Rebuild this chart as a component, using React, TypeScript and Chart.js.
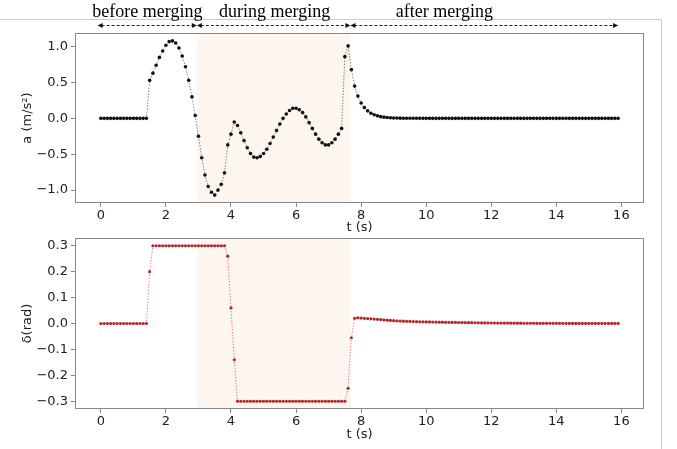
import React, { useEffect, useRef } from "react";
import { Chart, registerables } from "chart.js";
Chart.register(...registerables);

const times = [
  0.0, 0.1, 0.2, 0.3, 0.4, 0.5, 0.6, 0.7, 0.8, 0.9,
  1.0, 1.1, 1.2, 1.3, 1.4, 1.5, 1.6, 1.7, 1.8, 1.9,
  2.0, 2.1, 2.2, 2.3, 2.4, 2.5, 2.6, 2.7, 2.8, 2.9,
  3.0, 3.1, 3.2, 3.3, 3.4, 3.5, 3.6, 3.7, 3.8, 3.9,
  4.0, 4.1, 4.2, 4.3, 4.4, 4.5, 4.6, 4.7, 4.8, 4.9,
  5.0, 5.1, 5.2, 5.3, 5.4, 5.5, 5.6, 5.7, 5.8, 5.9,
  6.0, 6.1, 6.2, 6.3, 6.4, 6.5, 6.6, 6.7, 6.8, 6.9,
  7.0, 7.1, 7.2, 7.3, 7.4, 7.5, 7.6, 7.7, 7.8, 7.9,
  8.0, 8.1, 8.2, 8.3, 8.4, 8.5, 8.6, 8.7, 8.8, 8.9,
  9.0, 9.1, 9.2, 9.3, 9.4, 9.5, 9.6, 9.7, 9.8, 9.9,
  10.0, 10.1, 10.2, 10.3, 10.4, 10.5, 10.6, 10.7, 10.8, 10.9,
  11.0, 11.1, 11.2, 11.3, 11.4, 11.5, 11.6, 11.7, 11.8, 11.9,
  12.0, 12.1, 12.2, 12.3, 12.4, 12.5, 12.6, 12.7, 12.8, 12.9,
  13.0, 13.1, 13.2, 13.3, 13.4, 13.5, 13.6, 13.7, 13.8, 13.9,
  14.0, 14.1, 14.2, 14.3, 14.4, 14.5, 14.6, 14.7, 14.8, 14.9,
  15.0, 15.1, 15.2, 15.3, 15.4, 15.5, 15.6, 15.7, 15.8, 15.9,
];

const accel = [
  0, 0, 0, 0, 0, 0, 0, 0, 0, 0,
  0, 0, 0, 0, 0, 0.53, 0.63, 0.74, 0.85, 0.94,
  1.02, 1.07, 1.08, 1.05, 0.98, 0.87, 0.72, 0.53, 0.3, 0.04,
  -0.25, -0.55, -0.79, -0.95, -1.03, -1.07, -1.0, -0.92, -0.76, -0.37,
  -0.22, -0.05, -0.1, -0.2, -0.31, -0.41, -0.49, -0.54, -0.55, -0.53,
  -0.49, -0.43, -0.35, -0.26, -0.17, -0.08, 0.0, 0.06, 0.11, 0.14,
  0.14, 0.12, 0.08, 0.02, -0.06, -0.14, -0.22, -0.29, -0.34, -0.37,
  -0.37, -0.34, -0.29, -0.22, -0.14, 0.86, 1.01, 0.68, 0.45, 0.31,
  0.215, 0.15, 0.105, 0.072, 0.05, 0.035, 0.024, 0.017, 0.012, 0.008,
  0.006, 0.004, 0.003, 0.002, 0.002, 0.001, 0.001, 0.001, 0.001, 0,
  0, 0, 0, 0, 0, 0, 0, 0, 0, 0,
  0, 0, 0, 0, 0, 0, 0, 0, 0, 0,
  0, 0, 0, 0, 0, 0, 0, 0, 0, 0,
  0, 0, 0, 0, 0, 0, 0, 0, 0, 0,
  0, 0, 0, 0, 0, 0, 0, 0, 0, 0,
  0, 0, 0, 0, 0, 0, 0, 0, 0, 0,
];

const steer = [
  0, 0, 0, 0, 0, 0, 0, 0, 0, 0,
  0, 0, 0, 0, 0, 0.2, 0.3, 0.3, 0.3, 0.3,
  0.3, 0.3, 0.3, 0.3, 0.3, 0.3, 0.3, 0.3, 0.3, 0.3,
  0.3, 0.3, 0.3, 0.3, 0.3, 0.3, 0.3, 0.3, 0.3, 0.26,
  0.06, -0.14, -0.3, -0.3, -0.3, -0.3, -0.3, -0.3, -0.3, -0.3,
  -0.3, -0.3, -0.3, -0.3, -0.3, -0.3, -0.3, -0.3, -0.3, -0.3,
  -0.3, -0.3, -0.3, -0.3, -0.3, -0.3, -0.3, -0.3, -0.3, -0.3,
  -0.3, -0.3, -0.3, -0.3, -0.3, -0.3, -0.25, -0.055, 0.02, 0.022,
  0.021, 0.02, 0.019, 0.018, 0.017, 0.016, 0.015, 0.014, 0.013, 0.012,
  0.011, 0.01, 0.0095, 0.009, 0.0085, 0.008, 0.0075, 0.007, 0.0068, 0.0065,
  0.0062, 0.006, 0.0057, 0.0055, 0.0052, 0.005, 0.0047, 0.0045, 0.0042, 0.004,
  0.0038, 0.0036, 0.0034, 0.0032, 0.003, 0.0028, 0.0027, 0.0025, 0.0024, 0.0022,
  0.002, 0.0019, 0.0018, 0.0017, 0.0016, 0.0015, 0.0014, 0.0013, 0.0012, 0.0011,
  0.001, 0.001, 0.0009, 0.0009, 0.0008, 0.0008, 0.0007, 0.0007, 0.0006, 0.0006,
  0.0005, 0.0005, 0.0005, 0.0004, 0.0004, 0.0004, 0.0003, 0.0003, 0.0003, 0.0003,
  0.0002, 0.0002, 0.0002, 0.0002, 0.0002, 0.0001, 0.0001, 0.0001, 0.0001, 0.0001,
];

const xTicks = [0, 2, 4, 6, 8, 10, 12, 14, 16];
const xTickLabels = ["0", "2", "4", "6", "8", "10", "12", "14", "16"];
const accelTicks = [-1, -0.5, 0, 0.5, 1];
const accelTickLabels = ["\u22121.0", "\u22120.5", "0.0", "0.5", "1.0"];
const steerTicks = [-0.3, -0.2, -0.1, 0, 0.1, 0.2, 0.3];
const steerTickLabels = ["\u22120.3", "\u22120.2", "\u22120.1", "0.0", "0.1", "0.2", "0.3"];

const mergeStart = 2.95;
const mergeEnd = 7.67;
const phaseLabels = ["before merging", "during merging", "after merging"];
const phaseBounds = [-0.1, 2.95, 7.67, 15.9];
const phaseLabelX = [1.43, 5.34, 10.56];

const W = 677;
const H = 449;
const AXIS_COLOR = "#888888";
const SHADE = "#fdf5ef";
const TICK_FONT = { family: "DejaVu Sans", size: 13 };
const TITLE_FONT = { family: "DejaVu Sans", size: 13 };

function labelFor(ticks: number[], labels: string[], v: number) {
  const i = ticks.findIndex((t) => Math.abs(t - v) < 1e-9);
  return i >= 0 ? labels[i] : "";
}

function drawArrowHead(ctx: CanvasRenderingContext2D, tipX: number, y: number, dir: number) {
  ctx.beginPath();
  ctx.moveTo(tipX, y);
  ctx.lineTo(tipX + dir * 5, y - 2.5);
  ctx.lineTo(tipX + dir * 5, y + 2.5);
  ctx.closePath();
  ctx.fill();
}

function makeDecor(withHeader: boolean) {
  return {
    id: "decor",
    beforeDatasetsDraw(chart: any) {
      const { ctx, chartArea, scales } = chart;
      const x0 = scales.x.getPixelForValue(mergeStart);
      const x1 = scales.x.getPixelForValue(mergeEnd);
      ctx.save();
      ctx.fillStyle = SHADE;
      ctx.fillRect(x0, chartArea.top, x1 - x0, chartArea.bottom - chartArea.top);
      ctx.restore();
    },
    afterDraw(chart: any) {
      const { ctx, chartArea, scales } = chart;
      ctx.save();
      ctx.strokeStyle = AXIS_COLOR;
      ctx.lineWidth = 1;
      const l = Math.round(chartArea.left) + 0.5;
      const t = Math.round(chartArea.top) + 0.5;
      const r = Math.round(chartArea.right) - 0.5;
      const b = Math.round(chartArea.bottom) - 0.5;
      ctx.strokeRect(l, t, r - l, b - t);
      if (withHeader) {
        ctx.strokeStyle = "#cccccc";
        ctx.beginPath();
        ctx.moveTo(0, 19.5);
        ctx.lineTo(661.5, 19.5);
        ctx.lineTo(661.5, H);
        ctx.stroke();
        ctx.fillStyle = "#000";
        ctx.font = '18px "Liberation Serif"';
        ctx.textAlign = "center";
        ctx.textBaseline = "alphabetic";
        phaseLabels.forEach((txt, i) => {
          ctx.fillText(txt, scales.x.getPixelForValue(phaseLabelX[i]), 17);
        });
        const y = 25.5;
        ctx.strokeStyle = "#222";
        ctx.fillStyle = "#111";
        for (let i = 0; i < phaseLabels.length; i++) {
          const xa = scales.x.getPixelForValue(phaseBounds[i]);
          const xb = scales.x.getPixelForValue(phaseBounds[i + 1]);
          ctx.setLineDash([3, 2]);
          ctx.beginPath();
          ctx.moveTo(xa + 4, y);
          ctx.lineTo(xb - 4, y);
          ctx.stroke();
          ctx.setLineDash([]);
          drawArrowHead(ctx, xa, y, 1);
          drawArrowHead(ctx, xb, y, -1);
        }
      }
      ctx.restore();
    },
  };
}

function buildConfig(opts: {
  values: number[];
  yMin: number;
  yMax: number;
  yTicks: number[];
  yLabels: string[];
  yTitle: string;
  lineColor: string;
  pointColor: string;
  pointRadius: number;
  padTop: number;
  areaBottom: number;
  xAxisHeight: number;
  header: boolean;
}) {
  const data = times.map((t, i) => ({ x: t, y: opts.values[i] }));
  return {
    type: "line" as const,
    data: {
      datasets: [
        {
          data,
          borderColor: opts.lineColor,
          borderWidth: 0.9,
          borderDash: [1.5, 1.5],
          pointRadius: opts.pointRadius,
          pointBorderWidth: 0,
          pointBackgroundColor: opts.pointColor,
          tension: 0,
        },
      ],
    },
    options: {
      animation: false as const,
      responsive: false,
      maintainAspectRatio: false,
      events: [],
      layout: {
        padding: {
          left: 20,
          right: W - 644,
          top: opts.padTop,
          bottom: H - opts.areaBottom - opts.xAxisHeight,
        },
      },
      plugins: { legend: { display: false }, tooltip: { enabled: false } },
      scales: {
        x: {
          type: "linear" as const,
          min: -0.795,
          max: 16.695,
          afterBuildTicks: (s: any) => {
            s.ticks = xTicks.map((v) => ({ value: v }));
          },
          afterFit: (s: any) => {
            s.height = opts.xAxisHeight;
          },
          grid: { display: true, drawOnChartArea: false, drawTicks: true, tickLength: 4, color: AXIS_COLOR },
          border: { display: false },
          ticks: {
            color: "#222",
            font: TICK_FONT,
            padding: 1,
            maxRotation: 0,
            autoSkip: false,
            callback: (v: any) => labelFor(xTicks, xTickLabels, Number(v)),
          },
          title: { display: true, text: "t (s)", color: "#222", font: TITLE_FONT, padding: 0 },
        },
        y: {
          type: "linear" as const,
          min: opts.yMin,
          max: opts.yMax,
          afterBuildTicks: (s: any) => {
            s.ticks = opts.yTicks.map((v) => ({ value: v }));
          },
          afterFit: (s: any) => {
            s.width = 55;
          },
          grid: { display: true, drawOnChartArea: false, drawTicks: true, tickLength: 4, color: AXIS_COLOR },
          border: { display: false },
          ticks: {
            color: "#222",
            font: TICK_FONT,
            padding: 3,
            autoSkip: false,
            callback: (v: any) => labelFor(opts.yTicks, opts.yLabels, Number(v)),
          },
          title: { display: true, text: opts.yTitle, color: "#222", font: TITLE_FONT, padding: 0 },
        },
      },
    },
    plugins: [makeDecor(opts.header)],
  };
}

export default function App() {
  const topRef = useRef<HTMLCanvasElement>(null);
  const botRef = useRef<HTMLCanvasElement>(null);

  useEffect(() => {
    const top = new Chart(
      topRef.current!,
      buildConfig({
        values: accel,
        yMin: -1.18,
        yMax: 1.19,
        yTicks: accelTicks,
        yLabels: accelTickLabels,
        yTitle: "a (m/s\u00b2)",
        lineColor: "rgba(70,70,70,0.75)",
        pointColor: "#111111",
        pointRadius: 1.8,
        padTop: 33,
        areaBottom: 203,
        xAxisHeight: 32.3,
        header: true,
      }) as any
    );
    const bot = new Chart(
      botRef.current!,
      buildConfig({
        values: steer,
        yMin: -0.33,
        yMax: 0.33,
        yTicks: steerTicks,
        yLabels: steerTickLabels,
        yTitle: "\u03b4(rad)",
        lineColor: "rgba(205,80,80,0.75)",
        pointColor: "#b5262b",
        pointRadius: 1.6,
        padTop: 238,
        areaBottom: 409,
        xAxisHeight: 33.8,
        header: false,
      }) as any
    );
    return () => {
      top.destroy();
      bot.destroy();
    };
  }, []);

  const cstyle: React.CSSProperties = { position: "absolute", left: 0, top: 0 };
  return (
    <div style={{ position: "fixed", left: 0, top: 0, width: W, height: H, background: "#fff" }}>
      <canvas ref={botRef} width={W} height={H} style={cstyle} />
      <canvas ref={topRef} width={W} height={H} style={cstyle} />
    </div>
  );
}
